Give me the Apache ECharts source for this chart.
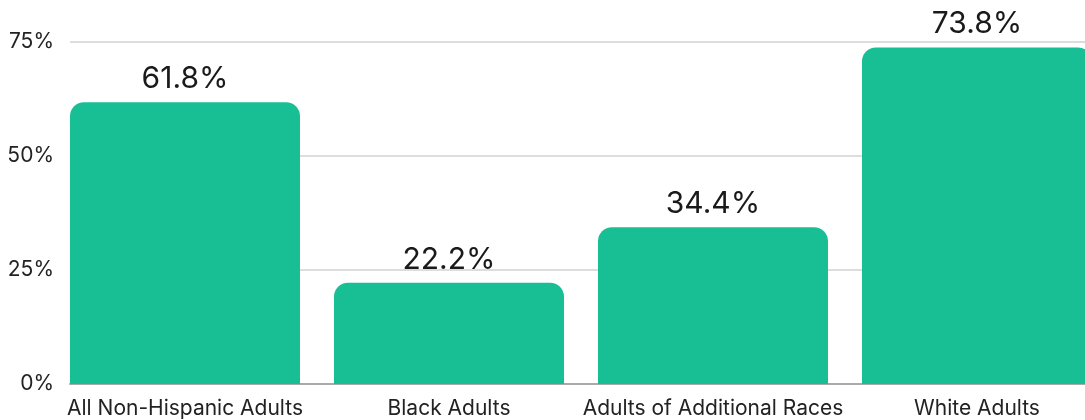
<!DOCTYPE html>
<html>
<head>
<meta charset="utf-8">
<script src="https://cdn.jsdelivr.net/npm/echarts@6/dist/echarts.min.js"></script>
<style>
  html, body { margin: 0; padding: 0; background: #ffffff; }
  #chart { width: 1085px; height: 420px; }
</style>
</head>
<body>
<div id="chart"></div>
<script>
// Share of adults by group (percent)
const categories = ['All Non-Hispanic Adults', 'Black Adults', 'Adults of Additional Races', 'White Adults'];
const shares = [61.8, 22.2, 34.4, 73.8];
const yTicks = [0, 25, 50, 75];

const FONT = 'Inter, "Noto Sans", sans-serif';
const BAR_COLOR = '#18bf94';
const TOP = 42, BOTTOM = 36;

const chart = echarts.init(document.getElementById('chart'), null, { renderer: 'canvas' });

chart.setOption({
  animation: false,
  backgroundColor: '#ffffff',
  grid: [
    // bars: four equal bands, the last one running past the right edge
    { left: 53, width: 1056, top: TOP, bottom: BOTTOM, outerBoundsMode: 'none', containLabel: false },
    // value scale, gridlines and baseline
    { left: 70, right: -40, top: TOP, bottom: BOTTOM, outerBoundsMode: 'none', containLabel: false }
  ],
  xAxis: [
    {
      type: 'category',
      gridIndex: 0,
      data: categories,
      axisLine: { show: false },
      axisTick: { show: false },
      axisLabel: { color: '#222222', fontFamily: FONT, fontSize: 21, margin: 14, interval: 0 }
    },
    {
      type: 'value',
      gridIndex: 1,
      min: 0, max: 1,
      axisLine: { show: true, lineStyle: { color: '#aaaaaa', width: 2 } },
      axisTick: { show: false },
      axisLabel: { show: false },
      splitLine: { show: false }
    }
  ],
  yAxis: [
    {
      type: 'value',
      gridIndex: 0,
      min: yTicks[0], max: yTicks[yTicks.length - 1], interval: 25,
      axisLine: { show: false },
      axisTick: { show: false },
      axisLabel: { show: false },
      splitLine: { show: false }
    },
    {
      type: 'value',
      gridIndex: 1,
      min: yTicks[0], max: yTicks[yTicks.length - 1], interval: 25,
      axisLine: { show: false },
      axisTick: { show: false },
      axisLabel: {
        color: '#222222', fontFamily: FONT, fontSize: 21, margin: 16,
        formatter: v => v + '%'
      },
      splitLine: { show: true, lineStyle: { color: '#dddddd', width: 2 } }
    }
  ],
  series: [
    {
      type: 'bar',
      xAxisIndex: 0,
      yAxisIndex: 0,
      data: shares,
      barWidth: 230,
      itemStyle: { color: BAR_COLOR, borderRadius: [14, 14, 0, 0] },
      label: {
        show: true,
        position: 'top',
        distance: 8,
        color: '#1a1a1a',
        fontFamily: FONT,
        fontSize: 30,
        formatter: p => p.value.toFixed(1) + '%'
      }
    }
  ]
});
</script>
</body>
</html>
